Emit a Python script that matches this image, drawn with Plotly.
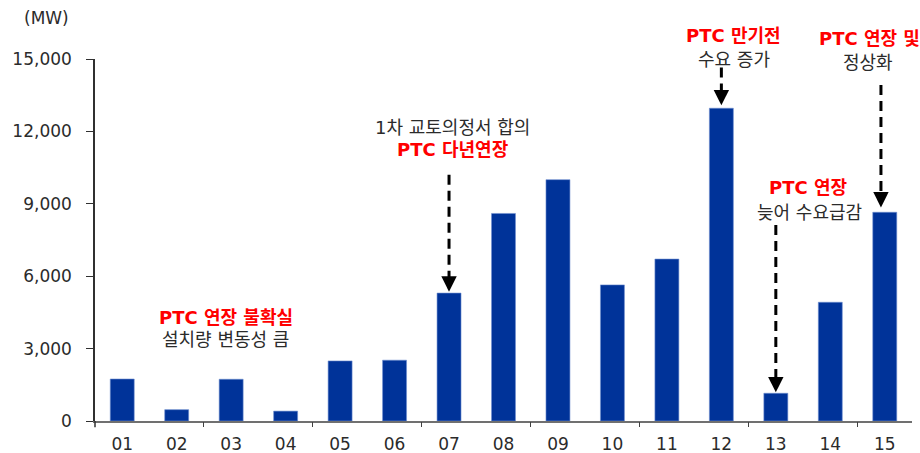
import plotly.graph_objects as go

years = ["01", "02", "03", "04", "05", "06", "07", "08", "09", "10", "11", "12", "13", "14", "15"]
installs_mw = [1740, 470, 1730, 410, 2490, 2520, 5300, 8600, 10000, 5640, 6710, 12960, 1150, 4920, 8650]
y_ticks = [0, 3000, 6000, 9000, 12000, 15000]
y_tick_labels = ["0", "3,000", "6,000", "9,000", "12,000", "15,000"]

FONT = "DejaVu Sans, Noto Sans CJK KR, sans-serif"
BAR = "#003399"
RED = "#ff0000"
GRAY = "#2b2b2b"

fig = go.Figure()
fig.add_trace(go.Bar(
    x=years, y=installs_mw,
    marker=dict(color=BAR, line=dict(color="#6f8fd0", width=0.6)),
    width=0.44,
    hoverinfo="x+y",
))
# invisible trace to drive the secondary (tick-only) x axis
fig.add_trace(go.Scatter(x=[-0.5, 14.5], y=[0, 0], xaxis="x2", mode="markers",
                         marker=dict(opacity=0), hoverinfo="skip", showlegend=False))

fig.update_layout(
    width=920, height=453,
    margin=dict(l=95, r=8, t=59, b=32),
    paper_bgcolor="white", plot_bgcolor="white",
    showlegend=False,
    font=dict(family=FONT, size=17, color=GRAY),
    xaxis=dict(
        type="category", showgrid=False, zeroline=False, automargin=False,
        showline=True, linecolor="#707070", linewidth=1.5,
        ticks="", tickfont=dict(size=17, color=GRAY), ticklabelstandoff=7,
        range=[-0.5, 14.5],
    ),
    xaxis2=dict(
        overlaying="x", range=[-0.5, 14.5], showgrid=False, zeroline=False, automargin=False,
        showline=False, showticklabels=False, ticks="outside", ticklen=5,
        tickcolor="#404040", tickwidth=1.2,
        tickvals=[1.5, 3.5, 5.5, 7.5, 9.5, 11.5, 13.5], side="bottom",
    ),
    yaxis=dict(
        range=[0, 15000], showgrid=False, zeroline=False, automargin=False,
        showline=True, linecolor="#303030", linewidth=1.5,
        ticks="outside", ticklen=7, tickcolor="#303030", tickwidth=1.2,
        tickvals=y_ticks, ticktext=y_tick_labels,
        tickfont=dict(size=17, color=GRAY), ticklabelstandoff=11,
    ),
    bargap=0.56,
)

# y-axis extension below the x axis
fig.add_shape(type="line", xref="paper", yref="paper", x0=0, x1=0, y0=0, y1=-0.017,
              line=dict(color="#303030", width=1.5))

fig.add_annotation(text="(MW)", xref="paper", yref="paper", x=-0.0588, y=1.113,
                   xanchor="center", yanchor="middle", showarrow=False,
                   font=dict(size=17, color=GRAY))


def text(x, y_paper, s, color=GRAY, bold=False, anchor="center"):
    fig.add_annotation(text=f"<b>{s}</b>" if bold else s, x=x, y=y_paper, xref="x", yref="paper",
                       xanchor=anchor, yanchor="middle", showarrow=False,
                       font=dict(size=18, color=color, family=FONT))


def dashed_arrow(idx, y_top, y_tip):
    fig.add_shape(type="line", xref="x", yref="y", x0=idx, x1=idx, y0=y_top, y1=y_tip + 450,
                  line=dict(color="black", width=3, dash="10px,6px"))
    fig.add_annotation(x=idx, y=y_tip, xref="x", yref="y", ax=idx, ay=y_tip + 600,
                       axref="x", ayref="y", text="", showarrow=True,
                       arrowhead=2, arrowsize=1.4, arrowwidth=2.2, arrowcolor="black")


# annotation 1
text(1.9, 0.285, "PTC 연장 불확실", RED, True)
text(1.9, 0.224, "설치량 변동성 큼")
# annotation 2 (year 07)
text(6.06, 0.812, "1차 교토의정서 합의")
text(6.08, 0.749, "PTC 다년연장", RED, True)
dashed_arrow(6, 10200, installs_mw[6] + 60)
# annotation 3 (year 12)
text(11.22, 1.066, "PTC 만기전", RED, True)
text(11.24, 1.0, "수요 증가")
dashed_arrow(11, 14650, installs_mw[11] + 120)
# annotation 4 (year 13)
text(12.6, 0.646, "PTC 연장", RED, True)
text(12.62, 0.577, "늦어 수요급감")
dashed_arrow(12, 8120, installs_mw[12] + 40)
# annotation 5 (year 15)
text(12.75, 1.058, "PTC 연장 및", RED, True, anchor="left")
text(13.70, 0.989, "정상화")
dashed_arrow(13.93, 13920, installs_mw[14] + 200)

fig.write_html("out.html", post_script="document.body.style.margin='0';",
               config={"displayModeBar": False})
